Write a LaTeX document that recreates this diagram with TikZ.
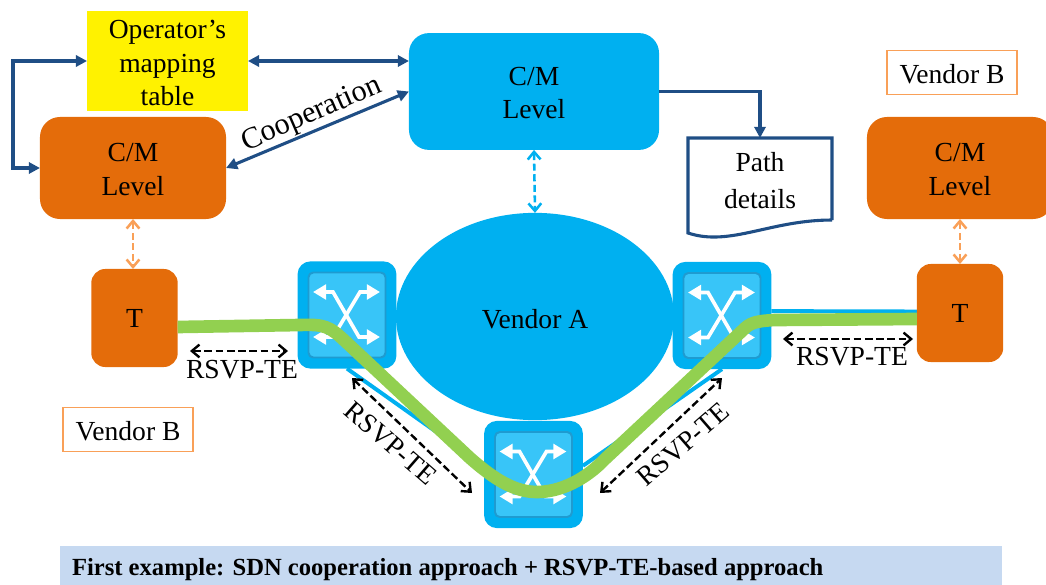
\documentclass[tikz,border=0pt]{standalone}
\usepackage{fontspec}
\setmainfont{Liberation Serif}
\usepackage{xcolor}
\usetikzlibrary{arrows.meta,positioning,shapes.geometric}
\definecolor{vendorblue}{HTML}{00B0F0}
\definecolor{vendororange}{HTML}{E46C0A}
\definecolor{lightorange}{HTML}{F9A058}
\definecolor{navyline}{HTML}{1F4E85}
\definecolor{pathgreen}{HTML}{92D050}
\definecolor{innerblue}{HTML}{38C5F8}
\definecolor{innerrim}{HTML}{1F9BD0}
\definecolor{bannerblue}{HTML}{C6D9F1}
\newcommand{\nudge}[1]{\rule{0pt}{#1pt}}

\begin{document}
\begin{tikzpicture}[
    x=0.025cm, y=-0.025cm,
    txt/.style={inner sep=0pt, outer sep=0pt, align=center, font=\fontsize{19.6}{23.8}\selectfont},
    cmbox/.style={txt, fill=vendororange, rounded corners=0.5cm, minimum width=4.65cm, minimum height=2.55cm},
    tbox/.style={txt, fill=vendororange, rounded corners=0.35cm, minimum width=2.16cm, minimum height=2.45cm},
    swbox/.style={fill=vendorblue, rounded corners=0.32cm, inner sep=0pt, outer sep=0pt, minimum width=2.47cm, minimum height=2.68cm},
    vendortag/.style={txt, draw=lightorange, line width=0.8pt, fill=white, minimum width=3.25cm, minimum height=1.12cm},
    lnk/.style={navyline, line width=2.2pt},
    twoway/.style={lnk, {Triangle[length=2.8mm,width=2.8mm]}-{Triangle[length=2.8mm,width=2.8mm]}},
    oneway/.style={lnk, -{Triangle[length=2.8mm,width=2.8mm]}},
    ctrl/.style={line width=1.8pt, dash pattern=on 5pt off 2.5pt, {Straight Barb[length=1.9mm,width=3.2mm]}-{Straight Barb[length=1.9mm,width=3.2mm]}},
    rsvp/.style={ctrl, black, line width=1.7pt, dash pattern=on 5.5pt off 2.5pt},
    rsvptxt/.style={txt},
    swicon/.style={white, line width=2.6pt, {Triangle[length=3.3mm,width=3.7mm]}-{Triangle[length=3.3mm,width=3.7mm]}}
]
\clip (0,0) rectangle (1046,585);

% upper boxes
\node[txt, fill=yellow, minimum width=4.02cm, minimum height=2.5cm] (table) at (167.5,61) {\nudge{16}Operator’s\\mapping\\table};
\node[cmbox] (lcm) at (133,168) {\nudge{15}C/M\\Level};
\node[cmbox, fill=vendorblue, minimum width=6.25cm, minimum height=2.92cm] (tcm) at (534,91.5) {\nudge{15}C/M\\Level};
\node[cmbox] (rcm) at (960,168) {\nudge{15}C/M\\Level};
\node[vendortag] (tagr) at (952,72.5) {\nudge{16}Vendor B};
\node[vendortag] (tagl) at (128,429.5) {\nudge{16}Vendor B};

% document shape
\node[txt, minimum width=3.6cm, minimum height=2.05cm] (path) at (760,179) {\nudge{16}Path\\[2pt]details};
\draw[lnk, line join=miter] (path.south east) -- (path.north east) -- (path.north west) -- (688,233)
    .. controls (730,247) and (770,220) .. (path.south east);
\draw[oneway] (tcm.east) -| (path.north);

% controller links
\draw[twoway] (table.east) -- (table.east -| tcm.west);
\draw[twoway] (lcm.west) -- ++(-27,0) |- (table.west);
\draw[twoway] (lcm.east) -- (tcm.west);
\node[txt, font=\fontsize{21.5}{26}\selectfont, rotate=23.5] (coop) at (312,115) {Cooperation};

% data plane
\node[swbox] (swl) at (347,315) {};
\node[swbox] (swb) at (533.5,474.5) {};
\node[swbox] (swr) at (722,315.5) {};
\draw[vendorblue, line width=2.8pt] (swl.south) -- (swb.170);
\draw[vendorblue, line width=2.8pt] (swb.10) -- (swr.south);
\draw[vendorblue, line width=2.8pt] ([yshift=0.11cm]swr.east) -- (917,311.5);
\node[txt, ellipse, fill=vendorblue, minimum width=6.95cm, minimum height=5.18cm] (ven) at (535,316.5) {\nudge{17.5}Vendor A};
\foreach \sw in {swl,swb,swr} {
\begin{scope}[shift={(\sw)}]
\draw[innerrim, fill=innerblue, line width=1.4pt, rounded corners=0.12cm] (-38.5,-42.5) rectangle (38.5,42.5);
\draw[swicon] (-34,-23) -- (-14,-23) -- (12,22) -- (33,22);
\draw[swicon] (33,-23) -- (13,-23) -- (-14,22) -- (-34,22);
\end{scope}
}
\node[tbox] (lt) at (134.5,318) {T};
\node[tbox] (rt) at (960,313) {T};
\draw[pathgreen, line width=9pt] ([yshift=-0.225cm]lt.east) -- (300,325)
    .. controls (325,324) and (330,327) .. (345,341) -- (470,458)
    .. controls (495,480) and (515,492) .. (537,492)
    .. controls (560,492) and (585,480) .. (605,459) -- (743,330)
    .. controls (750,323) and (755,321) .. (775,320) -- ([yshift=-0.15cm]rt.west);

% dashed control arrows
\draw[ctrl, lightorange] (lcm.south) -- (lcm.south |- lt.north);
\draw[ctrl, lightorange] (rt.north |- rcm.south) -- (rt.north);
\draw[ctrl, vendorblue] (tcm.south) -- (ven.north);

% RSVP-TE arrows
\coordinate (ra1) at (190,351);
\coordinate (ra2) at (288,351);
\coordinate (rb1) at (352,378);
\coordinate (rb2) at (472,493);
\coordinate (rc1) at (600,493);
\coordinate (rc2) at (722,378);
\coordinate (rd1) at (783,339);
\coordinate (rd2) at (913,339);
\draw[rsvp] (ra1) -- (ra2);
\draw[rsvp] (rb1) -- (rb2);
\draw[rsvp] (rc1) -- (rc2);
\draw[rsvp] (rd1) -- (rd2);
\node[rsvptxt] (la) at (242,370) {RSVP-TE};
\node[rsvptxt, rotate=-41] (lb) at (391,443) {RSVP-TE};
\node[rsvptxt, rotate=41] (lc) at (683,444) {RSVP-TE};
\node[rsvptxt] (ld) at (852,357) {RSVP-TE};

% caption
\node[fill=bannerblue, minimum width=23.55cm, minimum height=0.975cm, inner sep=0pt, outer sep=0pt] (banner) at (531,565.5) {};
\node[txt, anchor=west, font=\fontsize{17.5}{20}\selectfont\bfseries] (cap) at (72,570) {First example: SDN cooperation approach + RSVP-TE-based approach};
\end{tikzpicture}
\end{document}
